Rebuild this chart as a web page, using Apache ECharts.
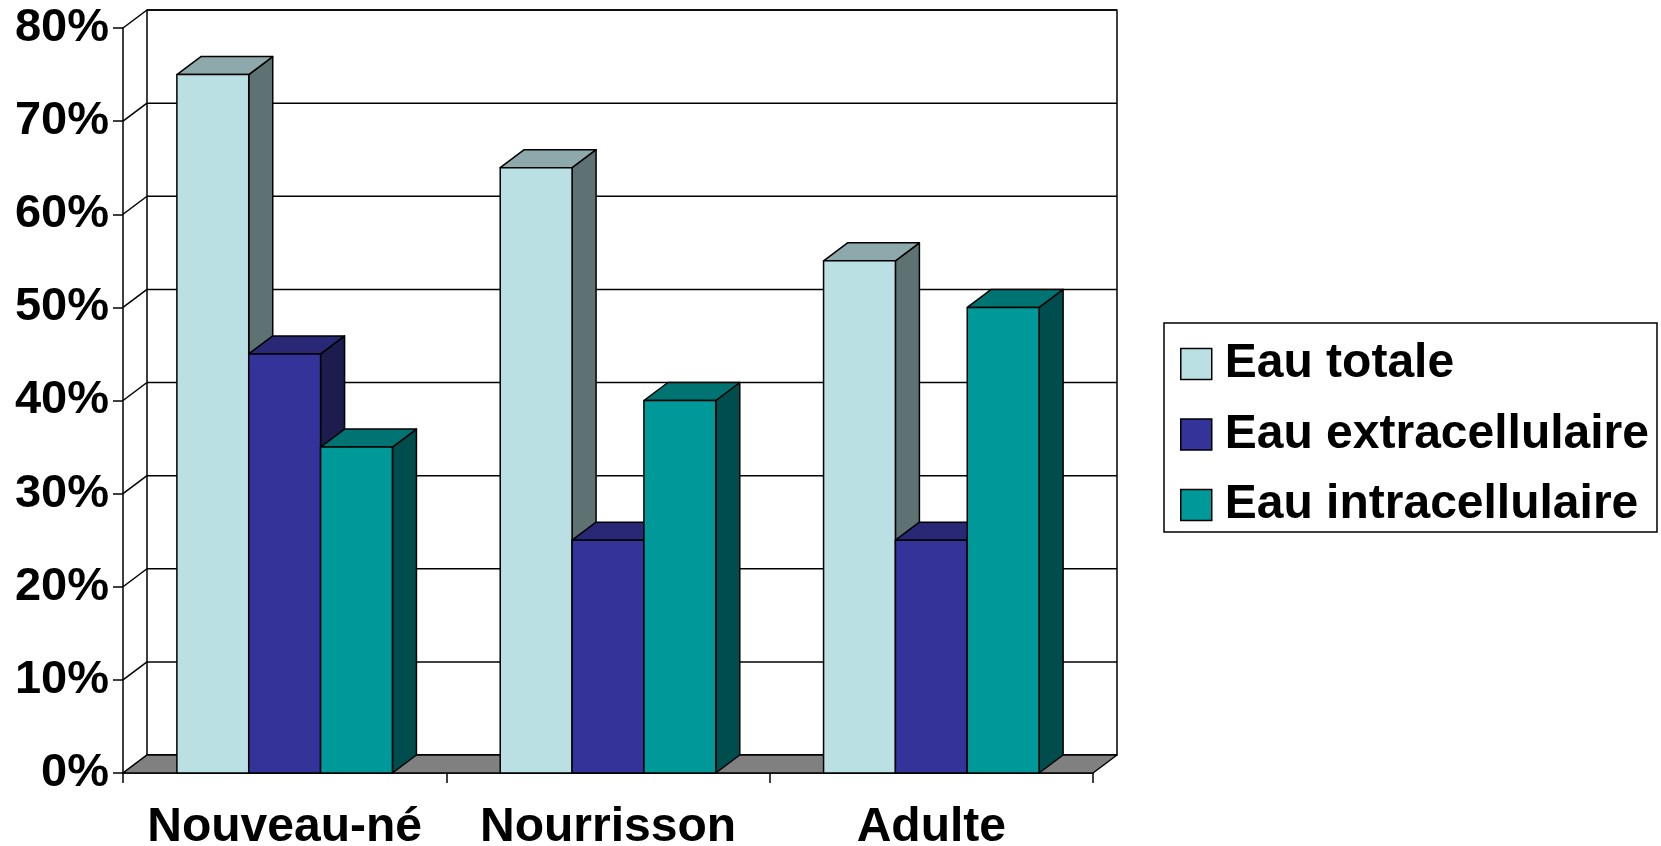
<!DOCTYPE html>
<html>
<head>
<meta charset="utf-8">
<title>Répartition de l'eau corporelle</title>
<script src="https://cdn.jsdelivr.net/npm/echarts@6/dist/echarts.min.js"></script>
<style>
  html, body { margin: 0; padding: 0; background: #fff; }
  #chart { width: 1661px; height: 846px; }
</style>
</head>
<body>
<div id="chart"></div>
<script>
// Categories and values (% of body weight)
const categories = ['Nouveau-né', 'Nourrisson', 'Adulte'];
const eauTotale = [75, 65, 55];
const eauExtracellulaire = [45, 25, 25];
const eauIntracellulaire = [35, 40, 50];
const seriesNames = ['Eau totale', 'Eau extracellulaire', 'Eau intracellulaire'];
const yTicks = [0, 10, 20, 30, 40, 50, 60, 70, 80];

// Face colours: front, top, side
const palette = [
  { front: '#BBE0E3', top: '#8DA9AC', side: '#5E7173' },
  { front: '#333399', top: '#282877', side: '#1C1C4F' },
  { front: '#009999', top: '#007373', side: '#004D4D' }
];

// Depth of the 3D projection in pixels
const DX = 24, DY = 18;
const FONT = "'Liberation Sans', Arial, sans-serif";
const LINE = { stroke: '#000', lineWidth: 1.5, lineJoin: 'round' };

// Back wall, floor, gridlines and side-wall diagonals
function renderFrame(params, api) {
  const cs = params.coordSys;
  const v = api.value(1);
  const y = api.coord([0, v])[1];
  const x0 = cs.x, x1 = cs.x + cs.width;
  const children = [
    { type: 'line', z2: 1, shape: { x1: x0 + DX, y1: y - DY, x2: x1 + DX, y2: y - DY }, style: LINE },
    { type: 'line', z2: 1, shape: { x1: x0, y1: y, x2: x0 + DX, y2: y - DY }, style: LINE }
  ];
  if (params.dataIndex === 0) {
    const yb = cs.y + cs.height;
    children.push({
      type: 'rect', z2: 0,
      shape: { x: x0 + DX, y: cs.y - DY, width: cs.width, height: cs.height },
      style: Object.assign({ fill: '#fff' }, LINE)
    });
    children.push({
      type: 'polygon', z2: 2,
      shape: { points: [[x0, yb], [x1, yb], [x1 + DX, yb - DY], [x0 + DX, yb - DY]] },
      style: Object.assign({ fill: '#808080' }, LINE)
    });
  }
  return { type: 'group', children };
}

// One 3D bar: front face, top face, right side face
function makeBarRenderer(k) {
  const col = palette[k];
  return function (params, api) {
    const c = api.value(0), v = api.value(1);
    const band = api.size([1, 0])[0];
    const base = api.coord([c, 0]);
    const top = api.coord([c, v]);
    const bw = band * 2 / 9;
    const xl = base[0] - band / 2 + band * 1.5 / 9 + k * bw;
    const xr = xl + bw;
    const yb = base[1], yt = top[1];
    return {
      type: 'group',
      children: [
        { type: 'polygon', shape: { points: [[xr, yt], [xr + DX, yt - DY], [xr + DX, yb - DY], [xr, yb]] },
          style: Object.assign({ fill: col.side }, LINE) },
        { type: 'polygon', shape: { points: [[xl, yt], [xl + DX, yt - DY], [xr + DX, yt - DY], [xr, yt]] },
          style: Object.assign({ fill: col.top }, LINE) },
        { type: 'rect', shape: { x: xl, y: yt, width: bw, height: yb - yt },
          style: Object.assign({ fill: col.front }, LINE) }
      ]
    };
  };
}

const valueSets = [eauTotale, eauExtracellulaire, eauIntracellulaire];

const barSeries = valueSets.map((vals, k) => ({
  name: seriesNames[k],
  type: 'custom',
  clip: false,
  z: 3,
  color: palette[k].front,
  encode: { x: 0, y: 1 },
  renderItem: makeBarRenderer(k),
  data: vals.map((v, i) => [i, v])
}));

const chart = echarts.init(document.getElementById('chart'), null, { renderer: 'canvas' });
chart.setOption({
  animation: false,
  backgroundColor: '#fff',
  grid: { left: 123, top: 28, width: 970, height: 745, containLabel: false, outerBoundsMode: 'none' },
  legend: {
    data: seriesNames,
    orient: 'vertical',
    left: 1164,
    top: 323,
    icon: 'rect',
    itemWidth: 31,
    itemHeight: 31,
    itemGap: 22.5,
    padding: [17, 8, 3, 16],
    borderColor: '#000',
    borderWidth: 1.5,
    backgroundColor: '#fff',
    selectedMode: false,
    itemStyle: { borderColor: '#000', borderWidth: 1.5 },
    textStyle: { fontSize: 48, fontWeight: 'bold', fontFamily: FONT, color: '#000', padding: [0, 0, 0, 8] }
  },
  xAxis: {
    type: 'category',
    data: categories,
    boundaryGap: true,
    axisLine: { show: true, lineStyle: { color: '#000', width: 1.5 } },
    axisTick: { show: true, length: 10, lineStyle: { color: '#000', width: 1.5 } },
    axisLabel: { interval: 0, margin: 31, fontSize: 48, fontWeight: 'bold', fontFamily: FONT, color: '#000' },
    splitLine: { show: false }
  },
  yAxis: {
    type: 'value',
    min: 0,
    max: 80,
    interval: 10,
    axisLine: { show: true, lineStyle: { color: '#000', width: 1.5 } },
    axisTick: { show: true, length: 10, lineStyle: { color: '#000', width: 1.5 } },
    axisLabel: { margin: 14, fontSize: 47, fontWeight: 'bold', fontFamily: FONT, color: '#000', formatter: '{value}%' },
    splitLine: { show: false }
  },
  series: [
    {
      name: 'frame',
      type: 'custom',
      clip: false,
      z: 1,
      silent: true,
      encode: { x: 0, y: 1 },
      renderItem: renderFrame,
      data: yTicks.map(t => [0, t])
    }
  ].concat(barSeries)
});
</script>
</body>
</html>
